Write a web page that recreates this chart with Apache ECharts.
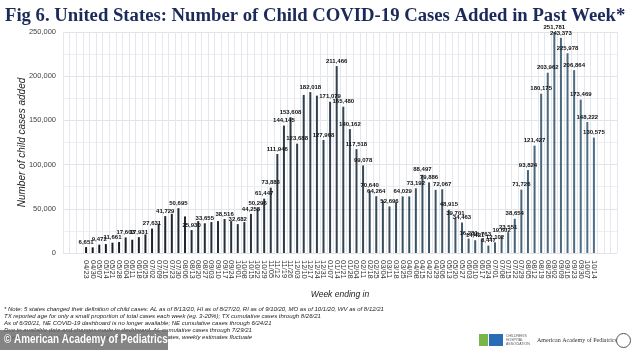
<!DOCTYPE html>
<html>
<head>
<meta charset="utf-8">
<title>Fig 6</title>
<script src="https://cdn.jsdelivr.net/npm/echarts@6/dist/echarts.min.js"></script>
<style>
  html, body { margin: 0; padding: 0; background: #fff; }
  #main { width: 634px; height: 350px; }
</style>
</head>
<body>
<div id="main"></div>
<script>
// week ending (04/23/2020 .. 10/14/2021)
var weeks = [
  "04/23", "04/30", "05/07", "05/14", "05/21", "05/28", "06/04", "06/11", "06/18", "06/25",
  "07/02", "07/09", "07/16", "07/23", "07/30", "08/06", "08/13", "08/20", "08/27", "09/03",
  "09/10", "09/17", "09/24", "10/01", "10/08", "10/15", "10/22", "10/29", "11/05", "11/12",
  "11/19", "11/26", "12/03", "12/10", "12/17", "12/24", "12/31", "01/07", "01/14", "01/21",
  "01/28", "02/04", "02/11", "02/18", "02/25", "03/04", "03/11", "03/18", "03/25", "04/01",
  "04/08", "04/15", "04/22", "04/29", "05/06", "05/13", "05/20", "05/27", "06/03", "06/10",
  "06/17", "06/24", "07/01", "07/08", "07/15", "07/22", "07/29", "08/05", "08/12", "08/19",
  "08/26", "09/02", "09/09", "09/16", "09/23", "09/30", "10/07", "10/14"
];

// child cases added in past week
var cases = [
  6651, 6400, 9472, 10100, 11661, 12400, 17603, 15000, 17931, 21000,
  27631, 33100, 41729, 44400, 50695, 41400, 25930, 36100, 33655, 35000,
  36100, 38516, 36100, 32682, 35000, 44258, 50296, 61447, 73883, 111946,
  144145, 153608, 123688, 178823, 182018, 178000, 127908, 171079, 211466, 165480,
  140162, 117518, 99078, 70640, 64264, 59400, 52696, 57500, 64029, 64000,
  73192, 88497, 79886, 71500, 72067, 48915, 39701, 34463, 16281, 14421,
  15763, 8447, 12102, 19602, 23551, 38654, 71726, 93824, 121427, 180175,
  203962, 251781, 243373, 225978, 206864, 173469, 148222, 130575
];

// bars that carry a value label in the original (0-based)
var labeled = [
  0, 2, 4, 6, 8, 10, 12, 14, 16, 18, 21, 23, 25, 26, 27, 28, 29, 30, 31, 32,
  34, 36, 37, 38, 39, 40, 41, 42, 43, 44, 46, 48, 50, 51, 52, 54, 55, 56, 57, 58,
  59, 60, 61, 62, 63, 64, 65, 66, 67, 68, 69, 70, 71, 72, 73, 74, 75, 76, 77
];

var yTicks = [0, 50000, 100000, 150000, 200000, 250000];

var notes = [
  "* Note: 5 states changed their definition of child cases: AL as of 8/13/20, HI as of 8/27/20, RI as of 9/10/20, MO as of 10/1/20, WV as of 8/12/21",
  "TX reported age for only a small proportion of total cases each week (eg. 3-20%); TX cumulative cases through 8/26/21",
  "As of 6/30/21, NE COVID-19 dashboard is no longer available; NE cumulative cases through 6/24/21",
  "Due to available data and changes made to dashboard, AL cumulative cases through 7/29/21",
  "Due to available data and reporting changes made in some states, weekly estimates fluctuate"
];

// empty slots either side of the bars, like the original plot area
var PAD = 3;

function fmt(v) {
  return String(v).replace(/\B(?=(\d{3})+(?!\d))/g, ",");
}

function barColor(i) {
  // near-black early bars fading to slate blue at the end
  var t = i / (weeks.length - 1);
  var a = [22, 24, 30], b = [80, 112, 134];
  var c = a.map(function(x, k) { return Math.round(x + (b[k] - x) * t); });
  return "rgb(" + c.join(",") + ")";
}

var blanks = [];
for (var k = 0; k < PAD; k++) blanks.push("");
var axisCats = blanks.concat(weeks, blanks);

var barData = blanks.map(function() { return "-"; }).concat(
  cases.map(function(v, i) {
    return {
      value: v,
      itemStyle: { color: barColor(i) },
      label: { show: labeled.indexOf(i) >= 0 }
    };
  })
);

var graphics = notes.map(function(t, i) {
  return {
    type: "text",
    left: 4,
    top: 306 + i * 7,
    style: { text: t, fill: "#222", font: "italic 6px 'Liberation Sans'" }
  };
});

graphics.push(
  { type: "rect", left: 0, top: 330, shape: { width: 168, height: 20 }, style: { fill: "rgba(110,110,110,0.85)" } },
  { type: "text", x: 4, y: 333, scaleX: 0.76, style: { text: "\u00a9 American Academy of Pediatrics", fill: "#fff", font: "bold 13px 'Liberation Sans'" } },
  { type: "rect", left: 479, top: 334, shape: { width: 9, height: 12 }, style: { fill: "#7ab547" } },
  { type: "rect", left: 489, top: 334, shape: { width: 14, height: 12 }, style: { fill: "#2a6db5" } },
  { type: "text", left: 506, top: 334, style: { text: "CHILDREN'S\nHOSPITAL\nASSOCIATION", fill: "#555", font: "3.5px 'Liberation Sans'", lineHeight: 4 } },
  { type: "text", left: 537, top: 337, style: { text: "American Academy of Pediatrics", fill: "#333", font: "6px 'Liberation Serif'" } },
  { type: "circle", left: 616, top: 333, shape: { r: 7 }, style: { fill: "#fff", stroke: "#555", lineWidth: 1 } }
);

var myChart = echarts.init(document.getElementById("main"));

var option = {
  backgroundColor: "#fff",
  animation: false,
  title: {
    text: "Fig 6. United States: Number of Child COVID-19 Cases Added in Past Week*",
    left: 0,
    top: 2,
    textStyle: {
      color: "#1c2a5a",
      fontFamily: "Liberation Serif",
      fontWeight: "bold",
      fontSize: 18.7
    }
  },
  grid: { left: 63, right: 17, top: 32, bottom: 97 },
  xAxis: {
    type: "category",
    data: axisCats,
    name: "Week ending in",
    nameLocation: "middle",
    nameGap: 37,
    nameMoveOverlap: false,
    nameTextStyle: { fontStyle: "italic", fontSize: 8.5, color: "#222" },
    axisLine: { show: false },
    axisTick: { show: false },
    axisLabel: { interval: 0, rotate: -90, fontSize: 7.5, color: "#333", margin: 7 },
    splitLine: { show: true, interval: 0, lineStyle: { color: "#e4e8ee", width: 1 } }
  },
  yAxis: {
    type: "value",
    min: yTicks[0],
    max: yTicks[yTicks.length - 1],
    interval: 50000,
    name: "Number of child cases added",
    nameLocation: "middle",
    nameGap: 36,
    nameMoveOverlap: false,
    nameTextStyle: { fontStyle: "italic", fontSize: 10, color: "#222" },
    axisLabel: { formatter: fmt, fontSize: 7.5, color: "#444", margin: 7 },
    splitLine: { lineStyle: { color: "#e2e4e8" } },
    minorTick: { show: false, splitNumber: 2 },
    minorSplitLine: { show: true, lineStyle: { color: "#eceef1" } }
  },
  series: [
    {
      type: "bar",
      data: barData,
      barWidth: 2,
      label: {
        position: "top",
        distance: 2,
        fontSize: 6,
        fontWeight: "bold",
        color: "#111",
        formatter: function(p) { return fmt(p.value); }
      }
    }
  ],
  graphic: graphics
};

myChart.setOption(option);
</script>
</body>
</html>
